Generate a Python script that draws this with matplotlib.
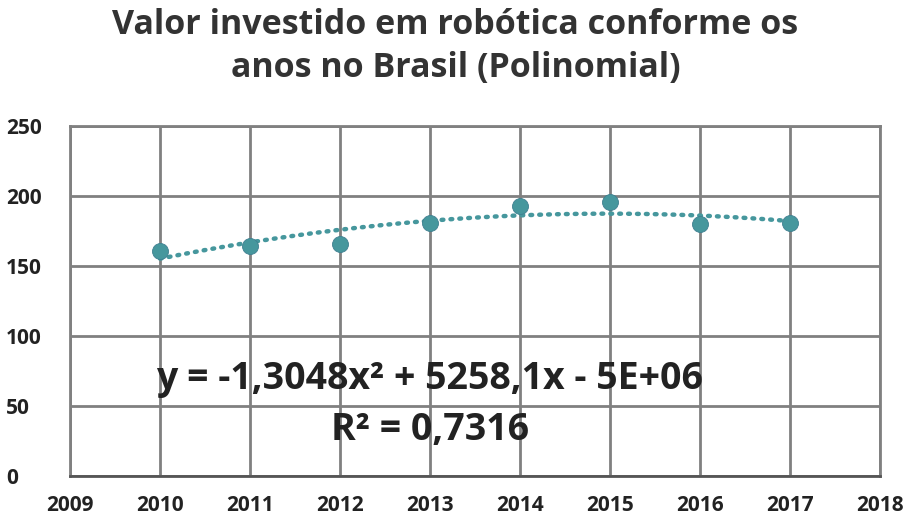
import numpy as np
import matplotlib.pyplot as plt

anos = [2010, 2011, 2012, 2013, 2014, 2015, 2016, 2017]
valores = [161, 164, 166, 181, 193, 196, 180, 181]
titulo = 'Valor investido em robótica conforme os\nanos no Brasil (Polinomial)'
equacao = 'y = -1,3048x² + 5258,1x - 5E+06'
r2 = 'R² = 0,7316'

plt.rcParams['font.family'] = ['Open Sans', 'DejaVu Sans']
teal = '#46979d'
cinza = '#808080'

fig = plt.figure(figsize=(9.11, 5.30), dpi=100)
ax = fig.add_axes([70/911, 1-476/530, 810/911, 350/530])

# trendline (quadratic fit of the data)
coef = np.polyfit(np.array(anos) - 2013, valores, 2)
xx = np.linspace(2010, 2017, 200)
ax.plot(xx, np.polyval(coef, xx - 2013), color=teal, lw=3.2,
        ls=(0, (0.4, 1.6)), dash_capstyle='round', zorder=3)
ax.plot(anos, valores, 'o', color=teal, ms=11.5, mec='#3f7f90', mew=0.6, zorder=4)

ax.set_xlim(2009, 2018)
ax.set_ylim(0, 250)
ax.set_xticks(range(2009, 2019))
ax.set_yticks(range(0, 251, 50))
ax.grid(True, color=cinza, lw=2)
ax.set_axisbelow(True)
for s in ax.spines.values():
    s.set_color(cinza)
    s.set_linewidth(2)
ax.spines['bottom'].set_color('#555555')
ax.tick_params(length=0, labelsize=15, colors='#222222')
ax.tick_params(axis='x', pad=14)
ax.tick_params(axis='y', pad=46)
for lb in ax.get_xticklabels() + ax.get_yticklabels():
    lb.set_fontweight('bold')
for lb in ax.get_yticklabels():
    lb.set_horizontalalignment('left')

ax.text(2013.0, 69, equacao, ha='center', va='center', fontsize=27,
        fontweight='bold', color='#222222', zorder=5)
ax.text(2013.0, 33, r2, ha='center', va='center', fontsize=27,
        fontweight='bold', color='#222222', zorder=5)

fig.text(0.5, 0.912, titulo, ha='center', va='center', fontsize=24.5,
         fontweight='bold', color='#333333', linespacing=1.35)

fig.savefig('out.png', dpi=100)
